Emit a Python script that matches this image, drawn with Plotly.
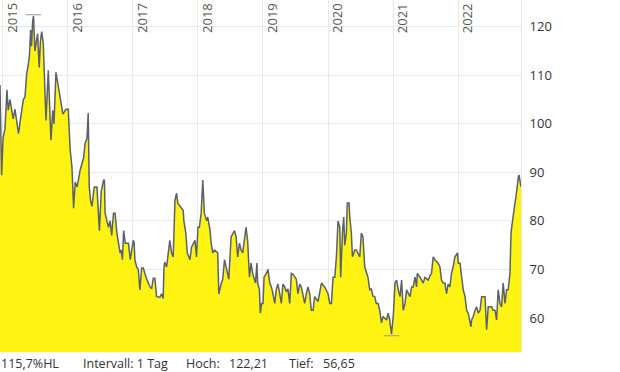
import plotly.graph_objects as go

dates = [
"2014-12-17","2014-12-19","2014-12-22","2014-12-26",
"2015-01-03","2015-01-14","2015-01-25","2015-02-01","2015-02-11","2015-02-22","2015-03-01","2015-03-11","2015-03-21","2015-03-31",
"2015-04-11","2015-04-27","2015-05-06","2015-05-16","2015-05-23","2015-05-31","2015-06-07","2015-06-12","2015-06-18","2015-06-23",
"2015-07-01","2015-07-16","2015-07-25","2015-08-01","2015-08-08","2015-08-17","2015-08-25","2015-09-01","2015-09-14","2015-09-29",
"2015-10-09","2015-10-16","2015-10-27","2015-11-07","2015-11-15","2015-11-24","2015-12-05","2015-12-22",
"2016-01-04","2016-01-15","2016-01-25","2016-02-03","2016-02-12","2016-02-23","2016-03-11","2016-03-30","2016-04-08","2016-04-18",
"2016-04-25","2016-05-01","2016-05-09","2016-05-16","2016-05-29","2016-06-13","2016-06-22","2016-06-27","2016-07-07","2016-07-20",
"2016-07-25","2016-07-29","2016-08-08","2016-08-17","2016-08-26","2016-09-04","2016-09-14","2016-09-23","2016-10-03","2016-10-12",
"2016-10-21","2016-10-27","2016-11-03","2016-11-10","2016-11-19","2016-11-28","2016-12-07","2016-12-17","2016-12-26",
"2017-01-03","2017-01-08","2017-01-12","2017-01-22","2017-01-31","2017-02-09","2017-02-19","2017-02-28","2017-03-09","2017-03-19",
"2017-04-06","2017-04-16","2017-04-25","2017-05-04","2017-05-14","2017-05-23","2017-06-01","2017-06-11","2017-06-20","2017-06-24",
"2017-06-29","2017-07-09","2017-07-18","2017-07-27","2017-08-06","2017-08-15","2017-08-25","2017-09-03","2017-09-10","2017-09-22",
"2017-10-10","2017-10-14","2017-10-25","2017-11-02","2017-11-17","2017-11-26","2017-12-15","2017-12-24",
"2018-01-01","2018-01-09","2018-01-19","2018-01-28","2018-02-01","2018-02-06","2018-02-19","2018-02-25","2018-03-10","2018-03-16",
"2018-03-25","2018-04-04","2018-04-22","2018-04-28","2018-05-11","2018-05-20","2018-05-30","2018-06-08","2018-06-17","2018-06-23",
"2018-07-06","2018-07-25","2018-08-03","2018-08-12","2018-08-22","2018-08-31","2018-09-09","2018-09-19","2018-09-28","2018-10-07",
"2018-10-17","2018-10-26","2018-11-04","2018-11-20","2018-11-28","2018-12-02","2018-12-12","2018-12-17","2018-12-24",
"2019-01-01","2019-01-07","2019-01-20","2019-01-29","2019-02-08","2019-02-17","2019-02-26","2019-03-08","2019-03-17","2019-03-26",
"2019-04-05","2019-04-14","2019-04-23","2019-05-03","2019-05-12","2019-05-21","2019-05-31","2019-06-09","2019-06-18","2019-06-28",
"2019-07-07","2019-07-16","2019-07-26","2019-08-04","2019-08-13","2019-08-23","2019-09-01","2019-09-10","2019-09-20","2019-09-29",
"2019-10-09","2019-10-18","2019-11-06","2019-11-15","2019-11-25","2019-12-13","2019-12-23",
"2020-01-01","2020-01-11","2020-01-20","2020-01-29","2020-02-08","2020-02-17","2020-02-26","2020-03-07","2020-03-12","2020-03-22",
"2020-03-29","2020-04-04","2020-04-13","2020-04-18","2020-04-28","2020-05-02","2020-05-11","2020-05-17","2020-05-30","2020-06-08",
"2020-06-27","2020-07-06","2020-07-15","2020-07-25","2020-08-03","2020-08-12","2020-08-22","2020-08-31","2020-09-09","2020-09-19",
"2020-09-28","2020-10-08","2020-10-17","2020-10-27","2020-11-05","2020-11-24","2020-12-03","2020-12-12","2020-12-22",
"2021-01-01","2021-01-11","2021-01-20","2021-01-29","2021-02-08","2021-02-17","2021-02-26","2021-03-08","2021-03-17","2021-04-05",
"2021-04-14","2021-04-23","2021-05-03","2021-05-12","2021-05-16","2021-05-31","2021-06-18","2021-06-28","2021-07-16","2021-07-26",
"2021-08-04","2021-08-13","2021-08-23","2021-09-10","2021-09-20","2021-09-29","2021-10-08","2021-10-18","2021-10-27","2021-11-05",
"2021-11-15","2021-11-24","2021-12-03","2021-12-13","2021-12-28",
"2022-01-01","2022-01-11","2022-01-20","2022-01-29","2022-02-08","2022-02-17","2022-02-26","2022-03-08","2022-03-13","2022-03-17",
"2022-03-26","2022-04-05","2022-04-14","2022-04-23","2022-05-03","2022-05-12","2022-05-21","2022-05-31","2022-06-09","2022-06-18",
"2022-06-28","2022-07-07","2022-07-16","2022-07-26","2022-08-04","2022-08-13","2022-08-23","2022-09-01","2022-09-10","2022-09-20",
"2022-09-29","2022-10-08","2022-10-18","2022-10-24","2022-10-31","2022-11-06","2022-11-15","2022-11-21","2022-11-26","2022-12-04",
"2022-12-08","2022-12-13","2022-12-19",
]

values = [
108,101,95,89.4,
97,99,107,102.8,105,102,101,103,100,98,
101,105,105.5,110.4,111.7,114,119.3,116,121,122.21,
115,118.6,111.6,117,119,116.5,108,100.7,111,96.6,
102.8,100,110.6,108,107,104.9,102,103,
103,94.6,91,82.6,88,87,90.5,93,96,97,
102.2,87,84,83,87,87,82,78,86,88.4,
88.4,81.6,80,78.7,80,77,81.6,81.6,77.5,75.4,
73.4,74,72,78,75.4,75.4,75.4,72,74,
76,75.4,72,70.5,70,65.8,70.3,70.3,69,68,
66.5,66,68.2,68.2,64.4,64.4,64.3,65,64,70.5,
71.5,70.5,74,76,73.4,72.6,84.3,85.7,83.6,83,
82.2,80,77.5,73.4,72,74.6,76,72.6,
78.7,78.7,81.6,88.4,84,81.6,80,80.8,78,75.4,
73.4,74,73.4,65,67,68,72,70.5,69,68,
76.7,78,76.7,72.6,75.4,74,73.4,76.7,78.7,75.8,
68.4,71.3,69.2,67.2,71.3,67.2,65.8,61,63,
63,68.4,69.2,70,67.2,66.4,65,63,66,67,
65,63,67,66.4,65.4,66,63,69.2,69,68.4,
68,65,67,66.4,64.4,63,65,66.4,65,61.6,
61.6,64.4,63.4,65,67.2,66.4,65.8,
65,63,63,68.4,68.4,72.6,80,78.7,68.4,77.5,
80.8,75,77.5,83.7,83.7,80.8,77.5,72.6,74,74,
72.6,77.5,76.7,70.5,69.2,68.4,65.8,66,64.5,64.4,
63,63,61.6,59,60.3,59.6,61,59.6,56.65,
60.3,67.2,67.8,65.8,64.4,67.8,61.6,63,65.8,64.4,
66.4,66.4,68.4,66.4,69.2,68.4,67.2,68.4,67.8,68.7,
69.2,72.6,72,71.3,70.5,67.8,67.2,67.2,65,67,
66.4,69.2,70.5,72.6,73.4,
71.3,71.3,68.4,65.8,64.4,61.6,61,59,58.2,59.6,
60.3,61.6,62.3,61,61.6,64.4,64.4,64.4,57.6,62.3,
62.3,62.3,61.6,61.6,59.6,65.8,63,62.3,67.2,63,
65.8,65.8,69.2,77.5,79.6,81.6,83.7,85,87,89,
89.5,87.7,87,
]

year_ticks = ["2015-01-01","2016-01-01","2017-01-01","2018-01-01","2019-01-01","2020-01-01","2021-01-01","2022-01-01"]
year_labels = ["2015","2016","2017","2018","2019","2020","2021","2022"]
y_ticks = [60, 70, 80, 90, 100, 110, 120]
footer_texts = ["115,7%HL", "Intervall: 1 Tag", "Hoch:", "122,21", "Tief:", "56,65"]
footer_px = [0, 82, 185, 228, 288, 322]

W, H = 620, 372
PL, PR, PT, PB = 0, 99, 0, 20
plot_w = W - PL - PR
plot_h = H - PT - PB

hi_i = max(range(len(values)), key=lambda i: values[i])
lo_i = min(range(len(values)), key=lambda i: values[i])

fig = go.Figure()
fig.add_trace(go.Scatter(
    x=dates, y=values, mode="lines",
    line=dict(color="#5a6168", width=1.5),
    fill="tozeroy", fillcolor="rgba(255,242,0,0.93)",
    hoverinfo="skip", showlegend=False,
))
fig.add_trace(go.Scatter(
    x=[dates[hi_i], dates[lo_i]], y=[values[hi_i] + 0.25, values[lo_i] - 0.3],
    mode="markers",
    marker=dict(symbol="line-ew-open", size=11, color="#9a9a9a",
                line=dict(color="#9a9a9a", width=1)),
    hoverinfo="skip", showlegend=False,
))

font = "Open Sans, Noto Sans, sans-serif"
fig.update_layout(
    width=W, height=H,
    margin=dict(l=PL, r=PR, t=PT, b=PB, pad=0),
    paper_bgcolor="white", plot_bgcolor="white",
    font=dict(family=font, color="#333333", size=13),
    xaxis=dict(
        range=["2014-12-17", "2022-12-19"],
        tickvals=year_ticks, showticklabels=False,
        showgrid=True, gridcolor="#e9e9e9", gridwidth=1,
        zeroline=False, showline=False, ticks="",
    ),
    yaxis=dict(
        range=[53.0, 125.5], side="right",
        tickvals=y_ticks, ticktext=[str(v) for v in y_ticks],
        showgrid=True, gridcolor="#e9e9e9", gridwidth=1,
        zeroline=False, showline=True, linecolor="#e6e6e6", linewidth=1,
        ticks="", ticklabelstandoff=5,
        tickfont=dict(family=font, size=13, color="#333333"),
    ),
)

for d, lab in zip(year_ticks, year_labels):
    fig.add_annotation(
        x=d, xref="x", y=1, yref="paper", yshift=-2,
        text=lab, showarrow=False, textangle=-90,
        xanchor="center", yanchor="top", xshift=9, borderpad=0,
        font=dict(family=font, size=13, color="#555555"),
    )

for t, px in zip(footer_texts, footer_px):
    fig.add_annotation(
        x=px / plot_w, xref="paper", y=0, yref="paper", yshift=-11,
        text=t, showarrow=False, xanchor="left", yanchor="middle", borderpad=0,
        font=dict(family=font, size=12.5, color="#333333"),
    )

fig.write_html("out.html")
